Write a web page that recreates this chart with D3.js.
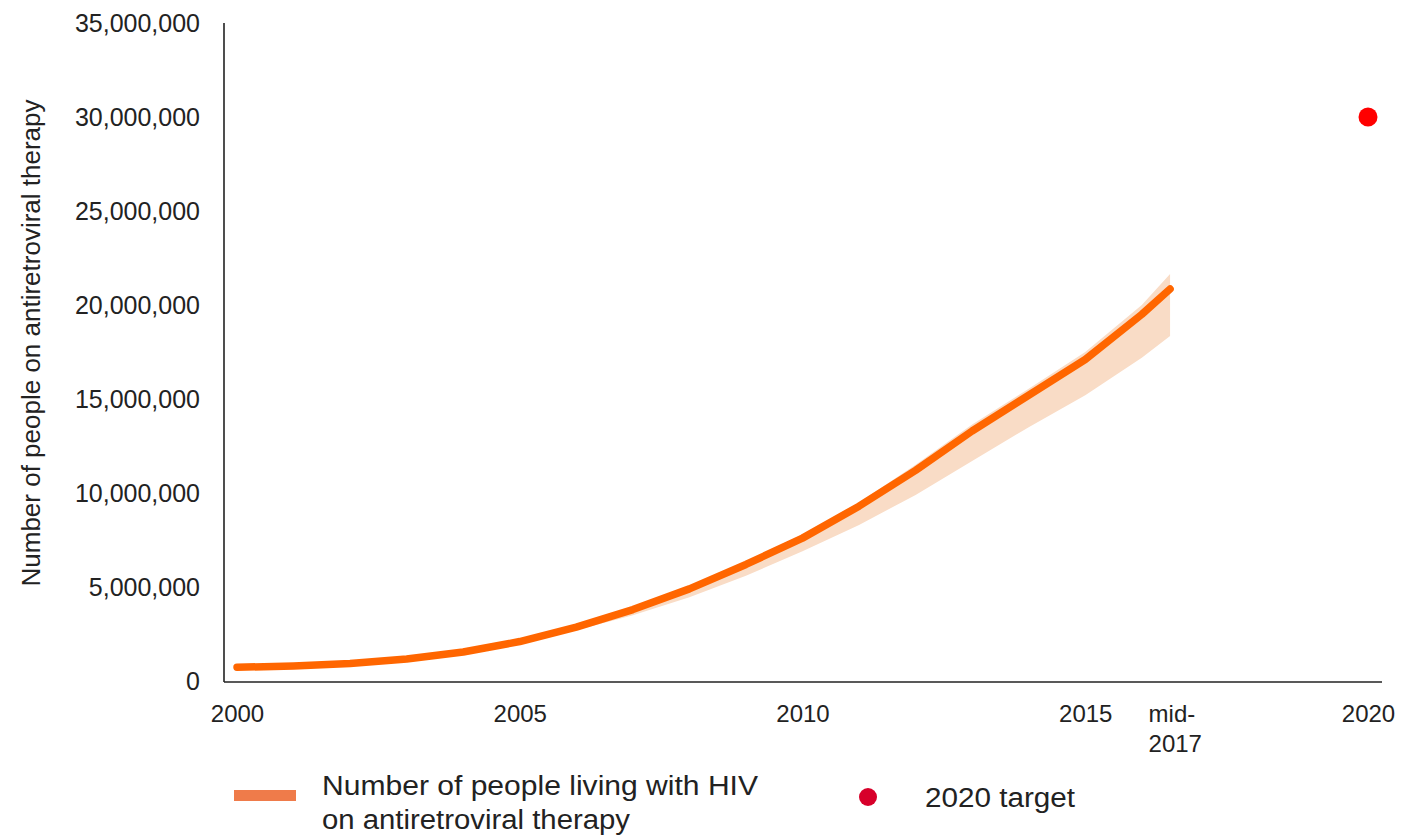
<!DOCTYPE html>
<html>
<head>
<meta charset="utf-8">
<script src="https://cdn.jsdelivr.net/npm/d3@7"></script>
<style>
  html, body { margin: 0; padding: 0; background: #ffffff; }
  svg { display: block; }
</style>
</head>
<body>
<svg id="chart" width="1401" height="835"></svg>
<script>
// ---------- data ----------
// x positions of observations (last point is the "mid-2017" estimate)
const periods = [2000, 2001, 2002, 2003, 2004, 2005, 2006, 2007, 2008, 2009, 2010, 2011, 2012, 2013, 2014, 2015, 2016, 2016.5];
// number of people on ART (millions)
const onART = [0.73, 0.80, 0.93, 1.17, 1.54, 2.10, 2.87, 3.80, 4.90, 6.20, 7.60, 9.30, 11.20, 13.30, 15.20, 17.10, 19.50, 20.85];
const lowerBound = [0.72, 0.78, 0.90, 1.12, 1.48, 2.00, 2.70, 3.50, 4.45, 5.60, 6.90, 8.30, 9.90, 11.70, 13.50, 15.20, 17.20, 18.35];
const upperBound = [0.75, 0.82, 0.96, 1.20, 1.58, 2.15, 2.95, 3.90, 5.00, 6.35, 7.80, 9.50, 11.50, 13.65, 15.55, 17.50, 20.00, 21.65];
const targetYear = 2020;
const targetValue = 30; // millions
const yTicks = [0, 5, 10, 15, 20, 25, 30, 35]; // millions
const xTickValues = [2000, 2005, 2010, 2015, 2016.5, 2020];
const xTickLabels = ["2000", "2005", "2010", "2015", "mid-|2017", "2020"];
const yTitle = "Number of people on antiretroviral therapy";
const legendLine = ["Number of people living with HIV", "on antiretroviral therapy"];
const legendTarget = "2020 target";

// ---------- layout ----------
const svg = d3.select("#chart");
const axisX0 = 224, axisY0 = 682;
const x = d3.scaleLinear().domain([2000, 2020]).range([237, 1368]);
const y = d3.scaleLinear().domain([0, 35]).range([681, 23]);
const font = "'Liberation Sans', Arial, sans-serif";

const rows = periods.map((p, i) => ({ p, v: onART[i], lo: lowerBound[i], hi: upperBound[i] }));

// uncertainty band
svg.append("path")
  .datum(rows)
  .attr("fill", "#f9dcc6")
  .attr("d", d3.area().x(d => x(d.p)).y0(d => y(d.lo)).y1(d => y(d.hi)));

// main line
svg.append("path")
  .datum(rows)
  .attr("fill", "none")
  .attr("stroke", "#ff6600")
  .attr("stroke-width", 7.5)
  .attr("stroke-linecap", "round")
  .attr("stroke-linejoin", "round")
  .attr("d", d3.line().x(d => x(d.p)).y(d => y(d.v)));

// target dot
svg.append("circle")
  .attr("cx", x(targetYear)).attr("cy", y(targetValue)).attr("r", 9.5)
  .attr("fill", "#ff0000");

// y axis
const yAxis = svg.append("g")
  .attr("transform", `translate(${axisX0},0)`)
  .call(d3.axisLeft(y).tickValues(yTicks).tickSize(0).tickPadding(24)
    .tickFormat(d => d3.format(",")(d * 1e6)));
yAxis.select(".domain").attr("stroke", "#222").attr("stroke-width", 1.6)
  .attr("d", `M0,${y(35)}V${axisY0}`);
yAxis.selectAll("text").attr("font-family", font).attr("font-size", 25).attr("fill", "#222");

// x axis
const xAxis = svg.append("g")
  .attr("transform", `translate(0,${axisY0})`)
  .call(d3.axisBottom(x).tickValues(xTickValues).tickSize(0).tickPadding(23)
    .tickFormat((d, i) => xTickLabels[i]));
xAxis.select(".domain").attr("stroke", "#222").attr("stroke-width", 1.6)
  .attr("d", `M${axisX0},0H1382`);
xAxis.selectAll("text")
  .attr("font-family", font).attr("font-size", 24).attr("fill", "#222")
  .each(function(d, i) {
    const parts = xTickLabels[i].split("|");
    if (parts.length > 1) {
      const t = d3.select(this).text(null).attr("text-anchor", "start").attr("x", -22);
      parts.forEach((s, k) => t.append("tspan").attr("x", -22).attr("dy", k === 0 ? "0.71em" : "1.25em").text(s));
      t.attr("dy", null);
    }
  });

// y title
svg.append("text")
  .attr("transform", `translate(40,343) rotate(-90)`)
  .attr("text-anchor", "middle")
  .attr("font-family", font).attr("font-size", 26).attr("fill", "#222")
  .text(yTitle);

// legend
const lg = svg.append("g");
lg.append("rect").attr("x", 234).attr("y", 790).attr("width", 62).attr("height", 11).attr("fill", "#ef7b4a");
lg.append("text").attr("x", 322).attr("y", 795)
  .attr("font-family", font).attr("font-size", 27).attr("fill", "#222")
  .attr("textLength", 436).attr("lengthAdjust", "spacingAndGlyphs")
  .text(legendLine[0]);
lg.append("text").attr("x", 322).attr("y", 829)
  .attr("font-family", font).attr("font-size", 27).attr("fill", "#222")
  .attr("textLength", 308).attr("lengthAdjust", "spacingAndGlyphs")
  .text(legendLine[1]);
lg.append("circle").attr("cx", 868).attr("cy", 797).attr("r", 9).attr("fill", "#d7002a");
lg.append("text").attr("x", 925).attr("y", 807)
  .attr("font-family", font).attr("font-size", 27).attr("fill", "#222")
  .attr("textLength", 150).attr("lengthAdjust", "spacingAndGlyphs")
  .text(legendTarget);
</script>
</body>
</html>
